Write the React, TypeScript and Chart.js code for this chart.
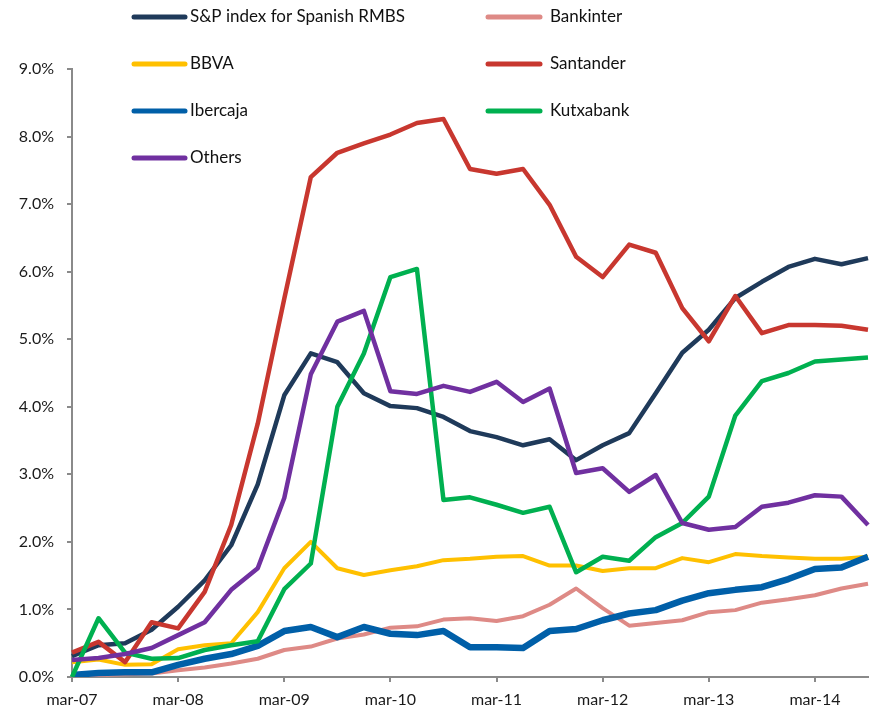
import React, { useEffect, useRef } from 'react';
import { Chart, registerables } from 'chart.js';

Chart.register(...registerables);

const quarters = [
  'mar-07', 'jun-07', 'sep-07', 'dic-07',
  'mar-08', 'jun-08', 'sep-08', 'dic-08',
  'mar-09', 'jun-09', 'sep-09', 'dic-09',
  'mar-10', 'jun-10', 'sep-10', 'dic-10',
  'mar-11', 'jun-11', 'sep-11', 'dic-11',
  'mar-12', 'jun-12', 'sep-12', 'dic-12',
  'mar-13', 'jun-13', 'sep-13', 'dic-13',
  'mar-14', 'jun-14', 'sep-14',
];

const spIndex = [0.31, 0.47, 0.5, 0.7, 1.04, 1.43, 1.95, 2.85, 4.17, 4.79, 4.66, 4.2, 4.01, 3.98, 3.85, 3.64, 3.55, 3.43, 3.52, 3.21, 3.43, 3.61, 4.2, 4.8, 5.14, 5.61, 5.85, 6.07, 6.19, 6.11, 6.2];
const bankinter = [0.02, 0.03, 0.04, 0.05, 0.1, 0.14, 0.2, 0.27, 0.4, 0.45, 0.57, 0.63, 0.73, 0.75, 0.85, 0.87, 0.83, 0.9, 1.07, 1.31, 1.02, 0.76, 0.8, 0.84, 0.96, 0.99, 1.1, 1.15, 1.21, 1.31, 1.38];
const bbva = [0.22, 0.26, 0.18, 0.19, 0.41, 0.47, 0.5, 0.96, 1.61, 2.0, 1.61, 1.51, 1.58, 1.64, 1.73, 1.75, 1.78, 1.79, 1.65, 1.65, 1.57, 1.61, 1.61, 1.76, 1.7, 1.82, 1.79, 1.77, 1.75, 1.75, 1.78];
const santander = [0.36, 0.52, 0.22, 0.81, 0.72, 1.26, 2.25, 3.75, 5.6, 7.4, 7.76, 7.9, 8.03, 8.2, 8.26, 7.52, 7.45, 7.52, 6.99, 6.22, 5.92, 6.4, 6.28, 5.46, 4.97, 5.64, 5.09, 5.21, 5.21, 5.2, 5.14];
const ibercaja = [0.03, 0.06, 0.07, 0.07, 0.18, 0.27, 0.34, 0.46, 0.68, 0.74, 0.59, 0.74, 0.64, 0.62, 0.68, 0.44, 0.44, 0.43, 0.68, 0.71, 0.84, 0.94, 0.99, 1.13, 1.24, 1.29, 1.33, 1.45, 1.6, 1.62, 1.78];
const kutxabank = [0.0, 0.87, 0.36, 0.27, 0.28, 0.4, 0.47, 0.53, 1.3, 1.68, 4.0, 4.79, 5.92, 6.04, 2.62, 2.66, 2.55, 2.43, 2.52, 1.55, 1.78, 1.72, 2.07, 2.28, 2.67, 3.87, 4.38, 4.5, 4.67, 4.7, 4.73];
const others = [0.25, 0.28, 0.34, 0.43, 0.62, 0.81, 1.29, 1.61, 2.65, 4.48, 5.26, 5.42, 4.23, 4.19, 4.31, 4.22, 4.37, 4.07, 4.27, 3.02, 3.09, 2.74, 2.99, 2.28, 2.18, 2.22, 2.52, 2.58, 2.69, 2.67, 2.25];

const seriesNames = ['S&P index for Spanish RMBS', 'Bankinter', 'BBVA', 'Santander', 'Ibercaja', 'Kutxabank', 'Others'];
const seriesData = [spIndex, bankinter, bbva, santander, ibercaja, kutxabank, others];
const seriesColors = ['#1F3A5A', '#DE8A86', '#FFC000', '#C8372F', '#005FA8', '#00B050', '#7030A0'];
const seriesWidths = [4.5, 4, 4, 4.5, 6.5, 4.5, 4.5];

const yTicks = [0, 1, 2, 3, 4, 5, 6, 7, 8, 9];

const FONT = 'Lato, "Open Sans", sans-serif';

const legendPlugin = {
  id: 'customLegend',
  afterDraw(chart: any) {
    const ctx = chart.ctx;
    const cols = [
      { x1: 134, x2: 185, tx: 190 },
      { x1: 488, x2: 540, tx: 550 },
    ];
    ctx.save();
    chart.data.datasets.forEach((ds: any, i: number) => {
      const row = Math.floor(i / 2);
      const c = cols[i % 2];
      const y = 17 + row * 47;
      ctx.beginPath();
      ctx.strokeStyle = ds.borderColor;
      ctx.lineWidth = 5;
      ctx.lineCap = 'round';
      ctx.moveTo(c.x1, y);
      ctx.lineTo(c.x2, y);
      ctx.stroke();
      ctx.fillStyle = '#111';
      ctx.font = '17px ' + FONT;
      ctx.textBaseline = 'middle';
      ctx.textAlign = 'left';
      ctx.fillText(ds.label, c.tx, y);
    });
    ctx.restore();
  },
};

export default function App() {
  const ref = useRef<HTMLCanvasElement>(null);

  useEffect(() => {
    if (!ref.current) return;
    const chart = new Chart(ref.current, {
      type: 'line',
      data: {
        labels: quarters,
        datasets: seriesNames.map((name, i) => ({
          label: name,
          data: seriesData[i],
          borderColor: seriesColors[i],
          backgroundColor: seriesColors[i],
          borderWidth: seriesWidths[i],
          pointRadius: 0,
          tension: 0,
          borderJoinStyle: 'round' as const,
          borderCapStyle: 'butt' as const,
          fill: false,
          order: seriesNames.length - i,
        })),
      },
      options: {
        animation: false,
        responsive: false,
        layout: { padding: { top: 69, right: 2, left: 0, bottom: 0 } },
        plugins: {
          legend: { display: false },
          tooltip: { enabled: false },
        },
        scales: {
          x: {
            type: 'category',
            offset: false,
            afterFit: (scale: any) => { scale.height = 34; },
            grid: {
              display: true,
              drawOnChartArea: false,
              drawTicks: true,
              tickLength: 5,
              color: '#8a8a8a',
              lineWidth: 2,
            },
            border: { display: true, color: '#8a8a8a', width: 2 },
            ticks: {
              autoSkip: false,
              maxRotation: 0,
              minRotation: 0,
              padding: 8,
              color: '#1a1a1a',
              font: { family: FONT, size: 16 },
              callback: function (this: any, val: any, index: number) {
                return index % 4 === 0 ? quarters[index] : null;
              },
            },
          },
          y: {
            type: 'linear',
            min: yTicks[0],
            max: yTicks[yTicks.length - 1],
            afterFit: (scale: any) => { scale.width = 72; },
            afterBuildTicks: (scale: any) => {
              scale.ticks = yTicks.map((v) => ({ value: v }));
            },
            grid: {
              display: true,
              drawOnChartArea: false,
              drawTicks: true,
              tickLength: 5,
              color: '#8a8a8a',
              lineWidth: 2,
            },
            border: { display: true, color: '#8a8a8a', width: 2 },
            ticks: {
              padding: 13,
              color: '#1a1a1a',
              font: { family: FONT, size: 16 },
              callback: (v: any) => Number(v).toFixed(1) + '%',
            },
          },
        },
      },
      plugins: [legendPlugin],
    });
    return () => chart.destroy();
  }, []);

  return (
    <div style={{ position: 'fixed', left: 0, top: 0, width: 870, height: 711, background: '#fff' }}>
      <canvas ref={ref} width={870} height={711} style={{ display: 'block' }} />
    </div>
  );
}
